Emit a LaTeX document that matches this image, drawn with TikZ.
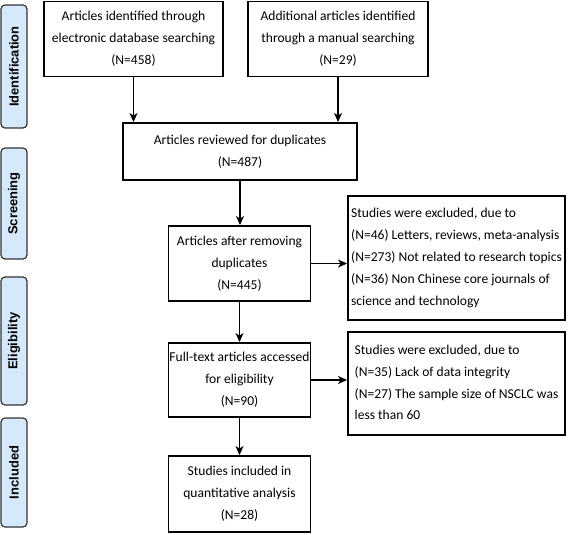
\documentclass[tikz,border=0pt]{standalone}
\usepackage{fontspec}
\setmainfont{Carlito}
\newfontfamily\labfont{Liberation Sans}
\usetikzlibrary{arrows.meta}
\definecolor{labblue}{RGB}{214,233,250}
\begin{document}
\begin{tikzpicture}[x=1bp,y=-1bp,
  box/.style={draw, line width=1.9bp, inner sep=0pt, align=center, font=\fontsize{13.6}{22}\selectfont},
  lbox/.style={draw, line width=1.9bp, inner sep=0pt, align=left, font=\fontsize{13.6}{22}\selectfont},
  stage/.style={draw=black!80, line width=1.2bp, fill=labblue, rounded corners=4bp, rotate=90, minimum height=26bp, inner sep=0pt, font=\labfont\bfseries\fontsize{13}{15}\selectfont},
  arr/.style={line width=1.9bp, -{Stealth[length=9bp,width=8bp,inset=2.5bp]}}]
\useasboundingbox (0,0) rectangle (568,535);

\node[stage, minimum width=123bp] (s1) at (14,66.5) {Identification};
\node[stage, minimum width=111bp] (s2) at (14,203.5) {Screening};
\node[stage, minimum width=128bp] (s3) at (14,341) {Eligibility};
\node[stage, minimum width=109bp] (s4) at (14,472.5) {Included};

\node[box, minimum width=179bp, minimum height=75bp] (b1) at (133.5,39) {Articles identified through\\electronic database searching\\(N=458)};
\node[box, minimum width=180bp, minimum height=75bp] (b2) at (338,39) {Additional articles identified\\through a manual searching\\(N=29)};
\node[box, minimum width=234bp, minimum height=57bp] (b3) at (240,151.5) {Articles reviewed for duplicates\\(N=487)};
\node[box, minimum width=142bp, minimum height=75bp] (b4) at (239.5,263.5) {Articles after removing\\duplicates\\(N=445)};
\node[lbox, minimum width=217bp, minimum height=124bp] (b5) at (456.5,258) {Studies were excluded, due to\\(N=46) Letters, reviews, meta-analysis\\(N=273) Not related to research topics\\(N=36) Non Chinese core journals of\\science and technology};
\node[box, minimum width=142bp, minimum height=74bp] (b6) at (239.5,380) {Full-text articles accessed\\for eligibility\\(N=90)};
\node[lbox, minimum width=217bp, minimum height=103bp] (b7) at (456.5,383.5) {Studies were excluded, due to\\(N=35) Lack of data integrity\\(N=27) The sample size of NSCLC was\\less than 60\phantom{g}};
\node[box, minimum width=142bp, minimum height=76bp] (b8) at (239.5,494) {Studies included in\\quantitative analysis\\(N=28)};

\draw[arr] (b1.south) -- (b1.south |- b3.north);
\draw[arr] (b2.south) -- (b2.south |- b3.north);
\draw[arr] (b3.south) -- (b3.south |- b4.north);
\draw[arr] (b4.east) -- (b4.east -| b5.west);
\draw[arr] (b4.south) -- (b6.north);
\draw[arr] (b6.east) -- (b6.east -| b7.west);
\draw[arr] (b6.south) -- (b8.north);
\end{tikzpicture}
\end{document}
